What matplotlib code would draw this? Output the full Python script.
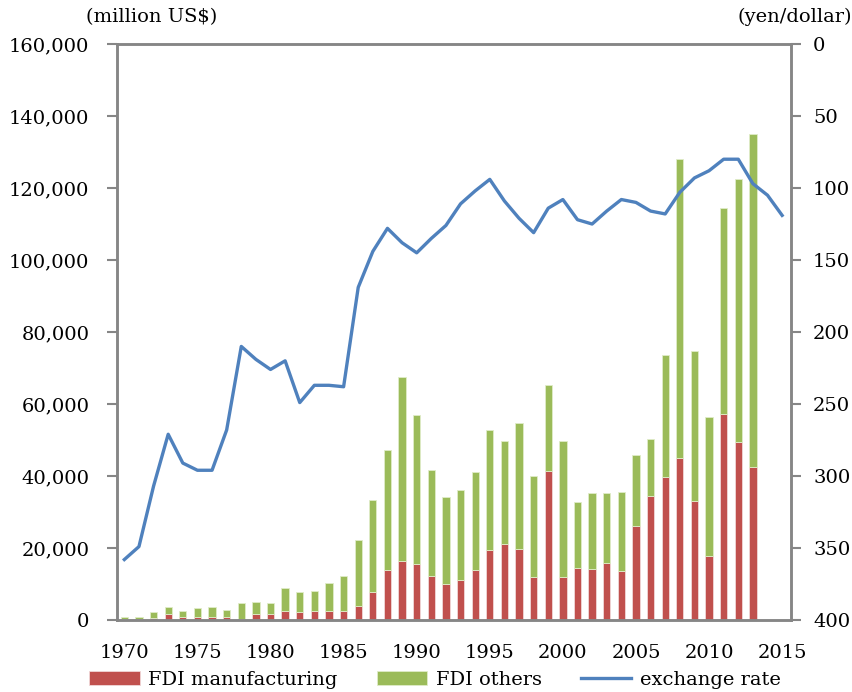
import matplotlib
matplotlib.use("Agg")
import matplotlib.pyplot as plt
from matplotlib.ticker import FuncFormatter
import numpy as np

# FDI (million US$), 1970-2013
bar_years = list(range(1970, 2014))
fdi_total = [900, 900, 2300, 3500, 2400, 3300, 3500, 2800, 4600, 5000,
             4700, 8900, 7700, 8100, 10200, 12200, 22300, 33400, 47100, 67600,
             57000, 41700, 34300, 36100, 41100, 52800, 49800, 54800, 40000, 65400,
             49800, 32700, 35400, 35300, 35500, 45900, 50400, 73600, 128000, 74800,
             56300, 114400, 122500, 135100]
fdi_manuf = [200, 200, 500, 1600, 800, 800, 900, 900, 300, 1700,
             1600, 2400, 2100, 2600, 2500, 2400, 3800, 7800, 13900, 16400,
             15600, 12300, 10100, 11100, 13900, 19500, 21000, 19600, 11900, 41500,
             11900, 14400, 14200, 15900, 13700, 26100, 34500, 39700, 45100, 33000,
             17800, 57200, 49400, 42500]
fdi_other = [t - m for t, m in zip(fdi_total, fdi_manuf)]

# exchange rate (yen/dollar), 1970-2015
rate_years = list(range(1970, 2016))
rate = [358, 349, 307, 271, 291, 296, 296, 268, 210, 219,
        226, 220, 249, 237, 237, 238, 169, 144, 128, 138,
        145, 135, 126, 111, 102, 94, 109, 121, 131, 114,
        108, 122, 125, 116, 108, 110, 116, 118, 103, 93,
        88, 80, 80, 97, 105, 119]

plt.rcParams['font.family'] = ['DejaVu Serif']
fs = 14

fig = plt.figure(figsize=(8.53, 6.92), dpi=100)
ax = fig.add_axes([0.1372, 0.104, 0.790, 0.8324])

red = '#C0504D'
green = '#9BBB59'
blue = '#4F81BD'
grey = '#868686'

b1 = ax.bar(bar_years, fdi_manuf, width=0.5, color=red, edgecolor='#f0d8d8',
            linewidth=0.6, label='FDI manufacturing')
b2 = ax.bar(bar_years, fdi_other, width=0.5, bottom=fdi_manuf, color=green,
            edgecolor='#e0ecc8', linewidth=0.6, label='FDI others')

ax.set_xlim(1969.5, 2015.6)
ax.set_ylim(0, 160000)
ax.set_yticks(np.arange(0, 160001, 20000))
ax.yaxis.set_major_formatter(FuncFormatter(lambda v, p: f'{int(v):,}'))
ax.set_xticks(range(1970, 2016, 5))
ax.tick_params(axis='x', length=0, labelsize=fs, pad=17.5)
ax.tick_params(axis='y', length=7, width=1.5, color=grey, labelsize=fs, pad=13)

ax2 = ax.twinx()
l1, = ax2.plot(rate_years, rate, color=blue, linewidth=2.4, label='exchange rate')
ax2.set_ylim(400, 0)
ax2.set_yticks(np.arange(0, 401, 50))
ax2.tick_params(axis='y', length=7, width=1.5, color=grey, labelsize=fs, pad=9)

for a in (ax, ax2):
    for s in a.spines.values():
        s.set_color(grey)
        s.set_linewidth(1.8)

fig.text(0.178, 0.975, '(million US$)', ha='center', va='center', fontsize=fs)
fig.text(0.999, 0.975, '(yen/dollar)', ha='right', va='center', fontsize=fs)

fig.legend(handles=[b1, b2, l1], loc='center', bbox_to_anchor=(0.51, 0.0173),
           ncol=3, frameon=False, fontsize=fs, handlelength=2.6,
           handleheight=0.7, columnspacing=2.0, handletextpad=0.45,
           borderpad=0.0)

fig.savefig('out.png', dpi=100)
